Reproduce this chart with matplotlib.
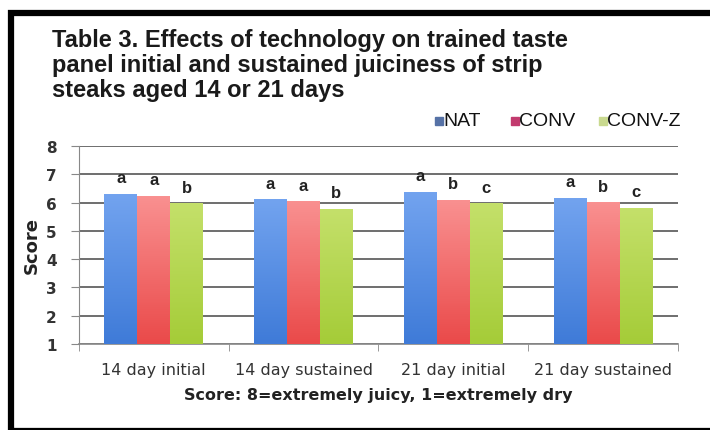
import numpy as np
import matplotlib
matplotlib.use("Agg")
import matplotlib.pyplot as plt
from matplotlib.patches import Rectangle
from matplotlib.colors import LinearSegmentedColormap

categories = ["14 day initial", "14 day sustained", "21 day initial", "21 day sustained"]
series = ["NAT", "CONV", "CONV-Z"]
nat = [6.28, 6.10, 6.36, 6.15]
conv = [6.22, 6.02, 6.08, 5.99]
convz = [5.95, 5.77, 5.95, 5.80]
nat_letters = ["a", "a", "a", "a"]
conv_letters = ["a", "a", "b", "b"]
convz_letters = ["b", "b", "c", "c"]

# (bottom colour, top colour) of each bar gradient
bar_colors = [("#3f7bd8", "#72a3ef"), ("#ea4a4a", "#f99090"), ("#a5cc38", "#c4e06a")]
legend_colors = ["#5672a6", "#c23a6e", "#c9d98f"]

plt.rcParams['font.family'] = ['Liberation Sans', 'DejaVu Sans']

fig = plt.figure(figsize=(7.10, 4.31), dpi=100)
ax = fig.add_axes([0.111, 0.1995, 0.844, 0.4595])

x = np.arange(len(categories))
w = 0.22
values = [nat, conv, convz]
letters = [nat_letters, conv_letters, convz_letters]
grad = np.linspace(0, 1, 64).reshape(-1, 1)
for i in range(3):
    cmap = LinearSegmentedColormap.from_list("g%d" % i, list(bar_colors[i]))
    bars = ax.bar(x + (i - 1) * w, values[i], w, color=bar_colors[i][0], zorder=3)
    for b, v, l in zip(bars, values[i], letters[i]):
        x0 = b.get_x()
        ax.imshow(grad, extent=[x0, x0 + b.get_width(), 1, v], origin="lower",
                  aspect="auto", cmap=cmap, zorder=3.5)
        ax.annotate(l, (x0 + b.get_width() / 2, v), xytext=(0, 12),
                    textcoords="offset points", ha="center", va="center",
                    fontsize=12, fontweight="bold", color="#222222")

ax.set_ylim(1, 8)
ax.set_xlim(-0.5, 3.5)
ax.set_yticks(range(1, 9))
ax.yaxis.grid(True, color="#6e6e6e", linewidth=1.4, zorder=0)
ax.set_axisbelow(True)
ax.set_xticks(x)
ax.set_xticklabels(categories, fontsize=11.5, color="#333333", family="DejaVu Sans")
ax.set_xticks(np.arange(-0.5, 4.0, 1.0), minor=True)
ax.tick_params(axis="x", which="major", length=0, pad=13)
ax.tick_params(axis="x", which="minor", length=5, color="#888888")
ax.tick_params(axis="y", length=6, color="#888888", pad=10)
for t in ax.get_yticklabels():
    t.set_fontweight("bold")
    t.set_fontsize(11)
    t.set_family("DejaVu Sans")
    t.set_color("#333333")

for s in ["top", "right"]:
    ax.spines[s].set_visible(False)
ax.spines["left"].set_color("#888888")
ax.spines["bottom"].set_color("#888888")
ax.spines["bottom"].set_linewidth(1.2)

ax.set_ylabel("Score", fontsize=13, fontweight="bold", color="#222222", labelpad=4,
              family="DejaVu Sans")
ax.set_xlabel("Score: 8=extremely juicy, 1=extremely dry", fontsize=11.5,
              fontweight="bold", color="#222222", labelpad=7, family="DejaVu Sans")

fig.text(52 / 710, 1 - 29 / 431,
         "Table 3. Effects of technology on trained taste\n"
         "panel initial and sustained juiciness of strip\n"
         "steaks aged 14 or 21 days",
         ha="left", va="top", fontsize=17, fontweight="bold",
         linespacing=1.1, color="#1a1a1a")

# legend drawn as text + squares in figure pixels
leg_x = [435, 511, 599]
for lx, name, c in zip(leg_x, series, legend_colors):
    fig.patches.append(Rectangle((lx / 710, 1 - 126 / 431), 8 / 710, 8 / 431,
                                 transform=fig.transFigure, color=c))
    fig.text((lx + 8.5) / 710, 1 - 121 / 431, name, ha="left", va="center",
             fontsize=14, color="#111111")

# outer frame
fig.patches.append(Rectangle((10.5 / 710, -0.002), 1.01 - 10.5 / 710, 1 - 14 / 431 + 0.002,
                             transform=fig.transFigure, fill=False,
                             edgecolor="black", linewidth=4.5, clip_on=False))

fig.savefig("out.png", dpi=100)
